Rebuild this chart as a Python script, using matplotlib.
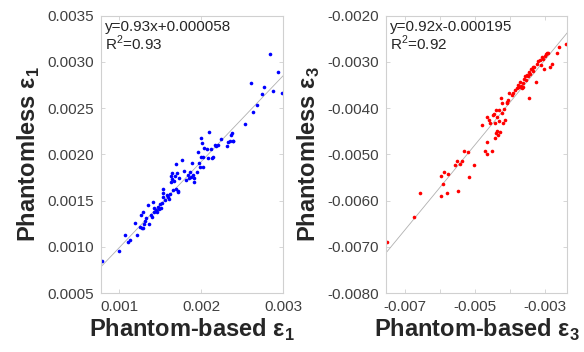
import matplotlib
matplotlib.use("Agg")
import matplotlib.pyplot as plt
import numpy as np
from matplotlib.ticker import FormatStrFormatter

plt.rcParams['font.family'] = ['Liberation Sans', 'DejaVu Sans']
plt.rcParams['mathtext.fontset'] = 'custom'
plt.rcParams['mathtext.rm'] = 'Liberation Sans'
plt.rcParams['mathtext.bf'] = 'Liberation Sans:bold'
plt.rcParams['axes.unicode_minus'] = False

# epsilon 1: phantom-based vs phantomless
e1_based = [0.000797, 0.001000, 0.001077, 0.001114, 0.001130, 0.001191, 0.001220,
            0.001260, 0.001276, 0.001297, 0.001309, 0.001272, 0.001297, 0.001313,
            0.001329, 0.001350, 0.001366, 0.001386, 0.001402, 0.001411, 0.001423,
            0.001431, 0.001447, 0.001459, 0.001480, 0.001492, 0.001504, 0.001512,
            0.001524, 0.001533, 0.001537, 0.001541, 0.001561, 0.001581, 0.001602,
            0.001614, 0.001626, 0.001630, 0.001642, 0.001634, 0.001650, 0.001663,
            0.001675, 0.001683, 0.001695, 0.001703, 0.001715, 0.001700, 0.001724,
            0.001732, 0.001764, 0.001793, 0.001817, 0.001837, 0.001854, 0.001866,
            0.001874, 0.001886, 0.001907, 0.001915, 0.001919, 0.001947, 0.001967,
            0.001980, 0.001988, 0.001996, 0.002004, 0.002012, 0.002020, 0.002028,
            0.002037, 0.002077, 0.002089, 0.002102, 0.002118, 0.002130, 0.002150,
            0.002171, 0.002183, 0.002211, 0.002248, 0.002317, 0.002333, 0.002354,
            0.002366, 0.002374, 0.002386, 0.002394, 0.002537, 0.002606, 0.002634,
            0.002687, 0.002748, 0.002772, 0.002841, 0.002874, 0.002943, 0.002984]
e1_less = [0.000849, 0.000957, 0.001122, 0.001050, 0.001076, 0.001252, 0.001126,
           0.001212, 0.001198, 0.001205, 0.001248, 0.001345, 0.001371, 0.001284,
           0.001306, 0.001457, 0.001248, 0.001345, 0.001324, 0.001489, 0.001371,
           0.001417, 0.001399, 0.001378, 0.001428, 0.001406, 0.001464, 0.001414,
           0.001478, 0.001543, 0.001622, 0.001579, 0.001507, 0.001565, 0.001536,
           0.001514, 0.001568, 0.001705, 0.001734, 0.001770, 0.001795, 0.001615,
           0.001712, 0.001766, 0.001896, 0.001795, 0.001608, 0.001626, 0.001597,
           0.001741, 0.001939, 0.001824, 0.001723, 0.001773, 0.001741, 0.001813,
           0.001759, 0.001903, 0.001777, 0.001705, 0.001741, 0.001809, 0.002029,
           0.001903, 0.001867, 0.001975, 0.002173, 0.002119, 0.001867, 0.001968,
           0.002065, 0.002058, 0.001957, 0.002245, 0.002058, 0.001957, 0.001975,
           0.002097, 0.002093, 0.002097, 0.002165, 0.002090, 0.002137, 0.002144,
           0.002205, 0.002234, 0.002147, 0.002140, 0.002331, 0.002770, 0.002453,
           0.002532, 0.002655, 0.002727, 0.003083, 0.002683, 0.002888, 0.002665]

# epsilon 3: phantom-based vs phantomless
e3_based = [-0.007524, -0.006743, -0.006571, -0.005981, -0.005981, -0.005914, -0.005895,
            -0.005810, -0.005781, -0.005571, -0.005524, -0.005495, -0.005419, -0.005371,
            -0.005324, -0.005200, -0.005171, -0.005019, -0.004810, -0.004714, -0.004667,
            -0.004667, -0.004648, -0.004610, -0.004571, -0.004505, -0.004495, -0.004457,
            -0.004438, -0.004419, -0.004400, -0.004390, -0.004381, -0.004362, -0.004343,
            -0.004324, -0.004314, -0.004286, -0.004257, -0.004229, -0.004219, -0.004190,
            -0.004171, -0.004143, -0.004095, -0.004076, -0.004048, -0.004019, -0.003952,
            -0.003924, -0.003857, -0.003810, -0.003781, -0.003733, -0.003714, -0.003695,
            -0.003667, -0.003638, -0.003619, -0.003590, -0.003562, -0.003543, -0.003505,
            -0.003486, -0.003467, -0.003448, -0.003429, -0.003410, -0.003381, -0.003352,
            -0.003333, -0.003305, -0.003257, -0.003238, -0.003190, -0.003143, -0.003124,
            -0.003095, -0.003048, -0.003029, -0.003000, -0.002971, -0.002952, -0.002905,
            -0.002857, -0.002810, -0.002667, -0.002590, -0.002400]
e3_less = [-0.006906, -0.006360, -0.005827, -0.005899, -0.005468, -0.005647, -0.005374,
           -0.005842, -0.005417, -0.005223, -0.005144, -0.005791, -0.005216, -0.005137,
           -0.004935, -0.004942, -0.005496, -0.005223, -0.004367, -0.004921, -0.004187,
           -0.004727, -0.004986, -0.004259, -0.004317, -0.004921, -0.004151, -0.004137,
           -0.004331, -0.004655, -0.004547, -0.004043, -0.004489, -0.004201, -0.004583,
           -0.004043, -0.004281, -0.004511, -0.003791, -0.003899, -0.004115, -0.004317,
           -0.004029, -0.004259, -0.003899, -0.003863, -0.003827, -0.003683, -0.003719,
           -0.003683, -0.003612, -0.003576, -0.003504, -0.003554, -0.003432, -0.003525,
           -0.003576, -0.003453, -0.003554, -0.003360, -0.003309, -0.003396, -0.003288,
           -0.003309, -0.003777, -0.003216, -0.003266, -0.003144, -0.003165, -0.003108,
           -0.003194, -0.003108, -0.003432, -0.003036, -0.002978, -0.002964, -0.003058,
           -0.002892, -0.002942, -0.003158, -0.002878, -0.002820, -0.002799, -0.002806,
           -0.003108, -0.003050, -0.002806, -0.002676, -0.002604]

fit1 = (0.93, 0.000058)
fit3 = (0.92, -0.000195)
text1 = 'y=0.93x+0.000058\nR$^2$=0.93'
text3 = 'y=0.92x-0.000195\nR$^2$=0.92'

fig = plt.figure(figsize=(5.84, 3.52), dpi=100)
ax1 = fig.add_axes([0.1729, 0.1676, 0.3116, 0.788])
ax3 = fig.add_axes([0.661, 0.1676, 0.31, 0.788])

grey = '#d0d0d0'
for ax in (ax1, ax3):
    for s in ax.spines.values():
        s.set_color(grey)
        s.set_linewidth(0.8)
    ax.tick_params(direction='in', length=3, width=0.6, color=grey,
                   top=True, right=True, labelsize=11, labelcolor='#404040', pad=5)
    ax.yaxis.set_major_formatter(FormatStrFormatter('%.4f'))

# left panel
xl = np.array([0.00078, 0.003])
ax1.plot(xl, fit1[0] * xl + fit1[1], color='#b0b0b0', lw=0.6)
ax1.plot(e1_based, e1_less, 'o', ms=2.6, color='blue', mec='none')
ax1.set_xlim(xl)
ax1.set_ylim(0.0005, 0.0035)
ax1.set_xticks([0.001, 0.002, 0.003])
ax1.set_xticklabels(['0.001', '0.002', '0.003'])
ax1.set_yticks(np.arange(0.0005, 0.00351, 0.0005))
ax1.text(0.02, 0.985, text1, transform=ax1.transAxes, ha='left', va='top',
         fontsize=11, color='#262626', linespacing=1.0)
ax1.set_xlabel(r'Phantom-based ε$_\mathbf{1}$', fontsize=17, fontweight='bold', color='#262626', labelpad=2)
ax1.set_ylabel(r'Phantomless ε$_\mathbf{1}$', fontsize=17, fontweight='bold', color='#262626', labelpad=4)

# right panel
xr = np.array([-0.00754, -0.00237])
ax3.plot(xr, fit3[0] * xr + fit3[1], color='#b0b0b0', lw=0.6)
ax3.plot(e3_based, e3_less, 'o', ms=2.6, color='red', mec='none')
ax3.set_xlim(xr)
ax3.set_ylim(-0.008, -0.002)
ax3.set_xticks([-0.007, -0.006, -0.005, -0.004, -0.003])
ax3.set_xticklabels(['-0.007', '', '-0.005', '', '-0.003'])
ax3.set_yticks(np.arange(-0.008, -0.00199, 0.001))
ax3.text(0.02, 0.985, text3, transform=ax3.transAxes, ha='left', va='top',
         fontsize=11, color='#262626', linespacing=1.0)
ax3.set_xlabel(r'Phantom-based ε$_\mathbf{3}$', fontsize=17, fontweight='bold', color='#262626', labelpad=2)
ax3.set_ylabel(r'Phantomless ε$_\mathbf{3}$', fontsize=17, fontweight='bold', color='#262626', labelpad=4)

fig.savefig('out.png', dpi=100)
